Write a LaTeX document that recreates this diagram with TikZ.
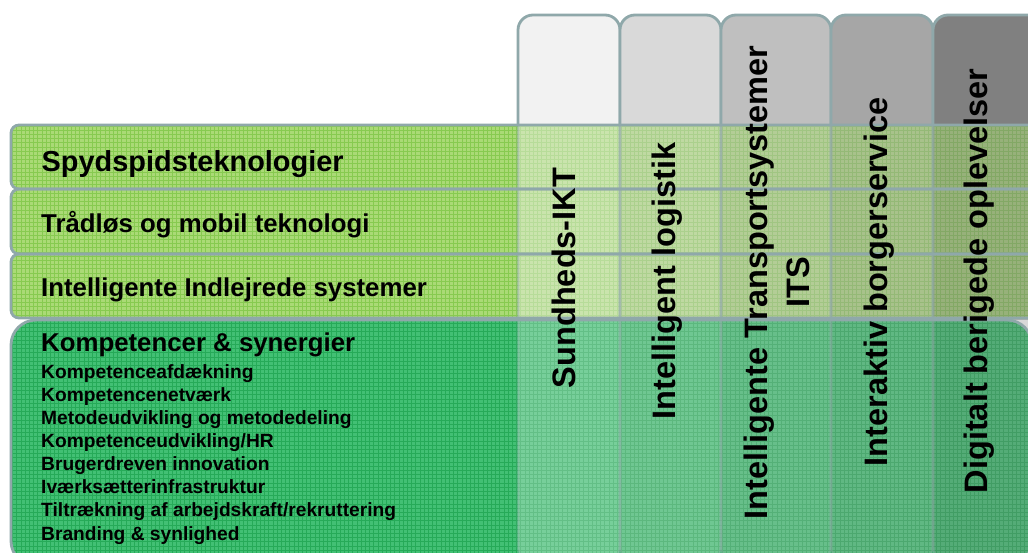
\documentclass[tikz,border=0pt]{standalone}
\usepackage{fontspec}
\setmainfont{Liberation Sans}
\definecolor{bordercol}{RGB}{143,168,170}
\definecolor{lightbar}{RGB}{170,218,118}
\definecolor{lightgrid}{RGB}{135,202,80}
\definecolor{darkbar}{RGB}{66,192,116}
\definecolor{darkgrid}{RGB}{38,170,88}
\definecolor{colA}{RGB}{242,242,242}
\definecolor{colB}{RGB}{217,217,217}
\definecolor{colC}{RGB}{191,191,191}
\definecolor{colD}{RGB}{166,166,166}
\definecolor{colE}{RGB}{128,128,128}
\newcommand\myfs[1]{\fontsize{#1}{#1}\selectfont}
\begin{document}
\begin{tikzpicture}[x=1pt,y=-1pt,
  border/.style={draw=bordercol, line width=2.8pt},
  htext/.style={anchor=base west, inner sep=0pt, font=\bfseries\myfs{25.8}},
  subtext/.style={anchor=base west, inner sep=0pt, font=\bfseries\myfs{19.2}},
  vtext/.style={anchor=base, rotate=90, inner sep=0pt, font=\bfseries\myfs{32.5}}]
\useasboundingbox (0,0) rectangle (1028,552);
\fill[white] (0,0) rectangle (1028,552);
% light bars
\foreach \ya/\yb in {125/189,189/254,254/318} {
  \begin{scope}
    \clip[rounded corners=8] (11,\ya) rectangle (1100,\yb);
    \fill[lightbar] (0,0) rectangle (1100,600);
    \draw[lightgrid, line width=0.9pt, step=4.2pt] (0,100) grid (1100,340);
  \end{scope}
}
% dark bar
\begin{scope}
  \clip[rounded corners=25] (11,320) rectangle (1032,566);
  \fill[darkbar] (0,0) rectangle (1100,600);
  \draw[darkgrid, line width=0.9pt, step=4.2pt] (0,300) grid (1100,600);
\end{scope}
% columns
\foreach \a/\b/\c in {518/620/colA,620/721/colB,721/831/colC,831/933/colD,933/1045/colE} {
  \begin{scope}
    \clip (0,0) rectangle (1100,125);
    \draw[border, fill=\c, rounded corners=15] (\a,15) rectangle (\b,562);
  \end{scope}
  \begin{scope}
    \clip (0,125) rectangle (1100,319);
    \draw[border, fill=\c, rounded corners=15, opacity=0.45] (\a,15) rectangle (\b,562);
  \end{scope}
  \begin{scope}
    \clip (0,319) rectangle (1100,600);
    \draw[border, fill=\c, rounded corners=15, opacity=0.3] (\a,15) rectangle (\b,562);
  \end{scope}
}
% bar borders
\draw[border, rounded corners=8] (11,125) rectangle (1100,189);
\draw[border, rounded corners=8] (11,189) rectangle (1100,254);
\draw[border, rounded corners=8] (11,254) rectangle (1100,318);
\draw[border, rounded corners=25] (11,320) rectangle (1032,566);
% horizontal texts
\node[htext, font=\bfseries\myfs{28.9}] (t1) at (41.5,171) {Spydspidsteknologier};
\node[htext] (t2) at (41,232.5) {Trådløs og mobil teknologi};
\node[htext] (t3) at (41,296.5) {Intelligente Indlejrede systemer};
\node[htext] (t4) at (41,351.5) {Kompetencer \& synergier};
\node[subtext] (s1) at (41,378.3) {Kompetenceafdækning};
\node[subtext] (s2) at (41,401.4) {Kompetencenetværk};
\node[subtext] (s3) at (41,424.5) {Metodeudvikling og metodedeling};
\node[subtext] (s4) at (41,447.6) {Kompetenceudvikling/HR};
\node[subtext] (s5) at (41,470.7) {Brugerdreven innovation};
\node[subtext] (s6) at (41,493.8) {Iværksætterinfrastruktur};
\node[subtext] (s7) at (41,516.9) {Tiltrækning af arbejdskraft/rekruttering};
\node[subtext] (s8) at (41,540) {Branding \& synlighed};
% vertical texts
\node[vtext] (v1) at (575,278) {Sundheds-IKT};
\node[vtext] (v2) at (675,281) {Intelligent logistik};
\node[vtext] (v3) at (767,282.5) {Intelligente Transportsystemer};
\node[vtext] (v3b) at (809,282) {ITS};
\node[vtext] (v4) at (887,282) {Interaktiv borgerservice};
\node[vtext] (v5) at (987,281) {Digitalt berigede oplevelser};
\end{tikzpicture}
\end{document}
